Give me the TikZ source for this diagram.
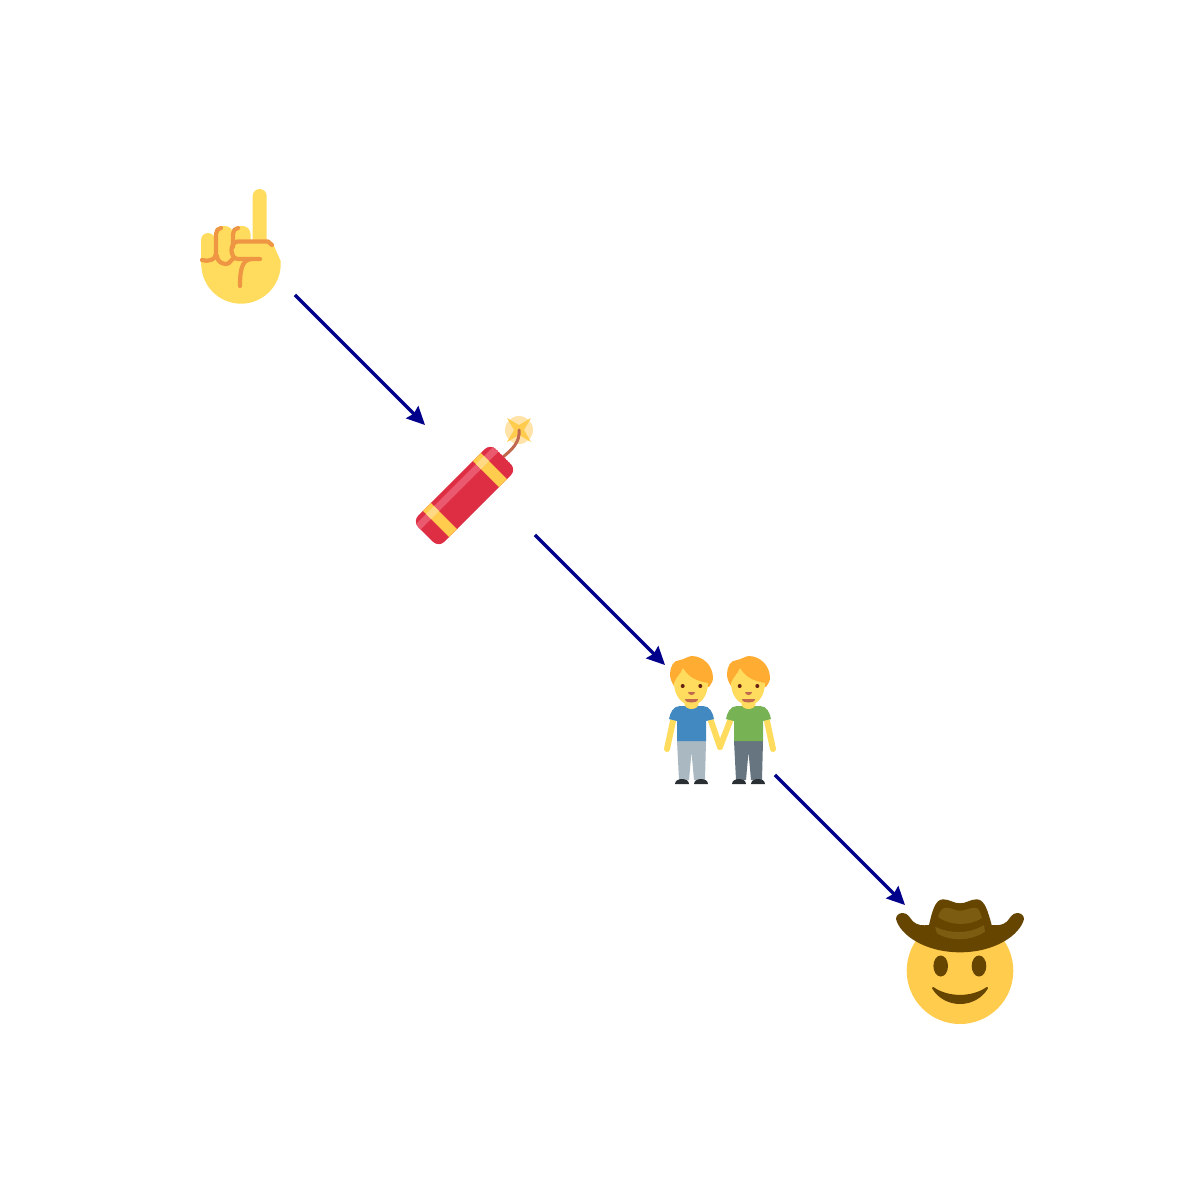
\documentclass[tikz,border=0pt]{standalone}
\usetikzlibrary{arrows.meta}
\definecolor{skin}{HTML}{FFDC5D}
\definecolor{crease}{HTML}{EF9645}
\definecolor{stick}{HTML}{DD2E44}
\definecolor{stickhi}{HTML}{EA596E}
\definecolor{band}{HTML}{FFCC4D}
\definecolor{bandhi}{HTML}{FFD983}
\definecolor{fuse}{HTML}{C1694F}
\definecolor{glow}{HTML}{FFE3A8}
\definecolor{hair}{HTML}{FFAC33}
\definecolor{eye}{HTML}{662113}
\definecolor{hat}{HTML}{664500}
\definecolor{hatlight}{HTML}{7C5C10}
\definecolor{shoe}{HTML}{292F33}
\definecolor{shirtblue}{HTML}{4289C1}
\definecolor{shirtgreen}{HTML}{77B255}
\definecolor{pantslight}{HTML}{AAB8C2}
\definecolor{pantsdark}{HTML}{66757F}
\definecolor{arrowblue}{HTML}{00008B}

\newcommand{\drawperson}[3]{%
  \begin{scope}[shift={(#1,0)}]
    \fill[#3] (677,741) -- (706,741) -- (705,780) -- (694,780) -- (691.5,752) -- (689,780) -- (679,780) -- cycle;
    \fill[shoe] (675,784) to[out=90, in=180] (682,779) to[out=0, in=90] (689,784) -- cycle;
    \fill[shoe] (694,784) to[out=90, in=180] (701,779) to[out=0, in=90] (708,784) -- cycle;
    \fill[#2] (669,719) to[out=80, in=180] (680,706) -- (703,706) to[out=0, in=100] (714,719)
      -- (706,721) -- (706,741) -- (677,741) -- (677,721) -- cycle;
    \fill[skin] (691.5,704) ellipse (7 and 5);
    \fill[hair] (691.5,656) to[out=0, in=90] (713,678) to[out=-90, in=60] (709,687)
      -- (674,686) to[out=120, in=-90] (670,674) to[out=90, in=180] (680,660) to[out=10, in=190] cycle;
    \fill[skin] (674,683) to[out=70, in=-110] (683,668) to[out=-60, in=170] (708,683)
      to[out=-90, in=0] (691.5,705) to[out=180, in=-90] cycle;
    \fill[eye] (682.7,686) circle (2) (700.3,686) circle (2);
    \fill[fuse] (688,692) -- (695,692) to[out=-90, in=0] (691.5,695) to[out=180, in=-90] cycle;
    \fill[fuse] (685,699) -- (698,699) to[out=-90, in=0] (691.5,702.5) to[out=180, in=-90] cycle;
  \end{scope}}

\begin{document}
\begin{tikzpicture}[x=0.01cm, y=-0.01cm,
    spot/.style={circle, inner sep=0, minimum size=1.54cm},
    link/.style={draw=arrowblue, line width=0.035cm, -{Stealth[length=0.18cm, width=0.17cm, inset=0.02cm]}},
    armline/.style={skin, line width=0.06cm, line cap=round},
    creaseline/.style={crease, line width=0.042cm, line cap=round, line join=round}]
  \useasboundingbox (0,0) rectangle (1200,1200);

  \node[spot] (finger) at (240,240) {};
  \node[spot] (cracker) at (480,480) {};
  \node[spot] (couple) at (720,720) {};
  \node[spot] (cowboy) at (960,960) {};

  \draw[link] (finger) -- (cracker);
  \draw[link] (cracker) -- (couple);
  \draw[link] (couple) -- (cowboy);

  % hand
  \fill[skin, rounded corners=0.07cm] (252.7,189) rectangle (266.7,250);
  \fill[skin, rounded corners=0.07cm] (201,233) rectangle (215,270);
  \fill[skin, rounded corners=0.08cm] (215,226) rectangle (233,270);
  \fill[skin, rounded corners=0.08cm] (233,226) rectangle (250.5,260);
  \begin{scope}
    \clip (190,260) rectangle (290,310);
    \fill[skin] (241,264) circle (39.7);
  \end{scope}
  \fill[skin] (225,241) -- (268,241) -- (274,246) -- (280.2,260) -- (225,268) -- cycle;
  \draw[creaseline] (260,259) -- (238,259) to[out=180, in=-90] (231.5,250) to[out=90, in=180] (238,241.5) -- (268,241.5) -- (272,245);
  \draw[creaseline] (252,259) to[out=180, in=90] (240,286);
  \draw[creaseline] (233,247) -- (233,234) to[out=90, in=180] (238,228);
  \draw[creaseline] (216,256) -- (216,234) to[out=90, in=180] (221,228);
  \draw[creaseline] (202,260) to[out=-20, in=-90] (216,254);
  \draw[creaseline] (217,256) to[out=-90, in=180] (226,264) to[out=0, in=-150] (234,258);

  % firecracker
  \fill[glow] (519,430) circle (14);
  \fill[band] (507,418) -- (519,425) -- (531,418) -- (524,430) -- (531,442) -- (519,435) -- (507,442) -- (514,430) -- cycle;
  \draw[fuse, line width=0.03cm, line cap=round] (503,457) to[out=40, in=-85] (519,430);
  \begin{scope}[shift={(464.5,495.5)}, rotate=45]
    \clip[rounded corners=0.08cm] (-55,-18.5) rectangle (55,18.5);
    \fill[stick] (-55,-18.5) rectangle (55,18.5);
    \fill[stickhi] (-55,-14) rectangle (55,-7);
    \fill[band] (30.4,-18.5) rectangle (41.7,18.5);
    \fill[band] (-40.3,-18.5) rectangle (-29,18.5);
    \fill[bandhi] (30.4,-14) rectangle (41.7,-7);
    \fill[bandhi] (-40.3,-14) rectangle (-29,-7);
  \end{scope}

  % two people
  \draw[armline] (673,721) -- (667,749);
  \draw[armline] (711,721) -- (720,747);
  \draw[armline] (730,721) -- (720,747);
  \draw[armline] (767,721) -- (773,749);
  \drawperson{0}{shirtblue}{pantslight}
  \drawperson{57}{shirtgreen}{pantsdark}

  % cowboy
  \fill[band] (960,970.7) circle (53.3);
  \fill[hat] (940.7,966) ellipse (7.3 and 10.5) (979,966) ellipse (7.3 and 10.5);
  \filldraw[hat, line width=0.02cm, line join=round] (933,988) .. controls (948,998.5) and (972,998.5) .. (987,988)
    .. controls (975,1008) and (945,1008) .. cycle;
  \fill[hat] (896,919) to[out=90, in=180] (902.5,913) to[out=0, in=130] (913,921.5) to[out=-40, in=185] (929,925)
    .. controls (932,912) and (935,899.3) .. (943,899.3) to[out=0, in=180] (960,903.3) to[out=0, in=180] (976.7,899.3)
    .. controls (985,899.3) and (988,912) .. (991.7,925) to[out=-5, in=-140] (1007,921.5) to[out=50, in=180] (1017.5,913)
    to[out=0, in=90] (1024,919) .. controls (1020,935) and (995,952.3) .. (960,952.3) .. controls (925,952.3) and (900,935) .. cycle;
  \fill[hatlight] (938,917) .. controls (940,910) and (943,907.7) .. (946,907.7) to[out=0, in=180] (960,910.7)
    to[out=0, in=180] (975,907.7) .. controls (979,907.7) and (980,912) .. (982,918) .. controls (970,926) and (950,926) .. cycle;
  \fill[hatlight] (935,926.7) .. controls (950,934) and (970,934) .. (984,925) -- (985,931.7) .. controls (970,941.5) and (950,941.5) .. (937,933.3) -- cycle;
\end{tikzpicture}
\end{document}
